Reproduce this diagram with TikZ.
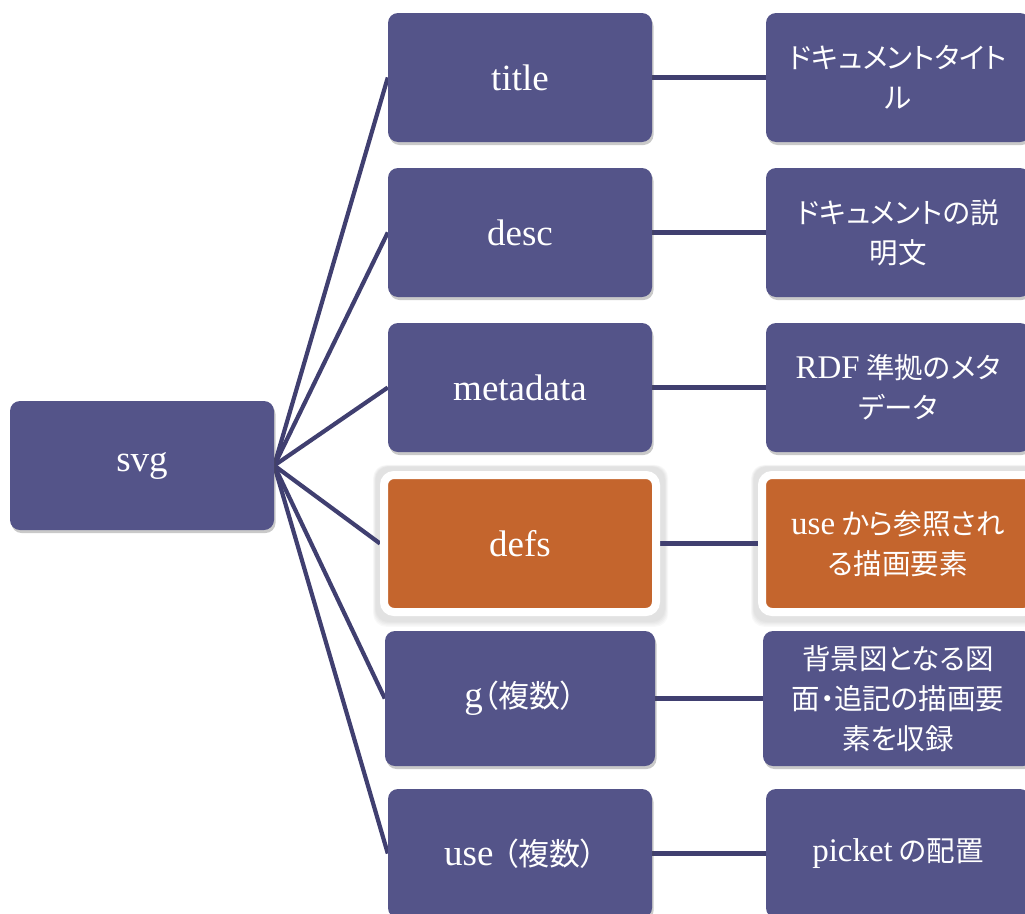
\documentclass[tikz,border=0pt]{standalone}
\usepackage{fontspec}
\setmainfont{Liberation Serif}
\newfontfamily\jp[RawFeature=+palt]{Noto Sans CJK JP}
\usetikzlibrary{shadows,backgrounds}
\definecolor{boxc}{HTML}{545489}
\definecolor{linec}{HTML}{403F70}
\definecolor{orangec}{HTML}{C4652D}
\newcommand\J[1]{{\jp #1}}
\newcommand\Lat[1]{{\rmfamily\fontsize{33}{40}\selectfont #1}}
\tikzset{
  box/.style={rounded corners=10pt, fill=boxc, text=white, minimum width=264pt,
    minimum height=129pt, inner sep=0pt, align=center,
    drop shadow={shadow xshift=1.5pt, shadow yshift=-3pt, opacity=0.3, fill=black!70}},
  hot/.style={rounded corners=10pt, fill=orangec, text=white, inner sep=0pt, align=center,
    draw=white, line width=8pt, minimum width=272pt, minimum height=137pt},
  mid/.style={font=\fontsize{37}{40}\selectfont},
  rt/.style={font=\jp\fontsize{28.5}{40}\selectfont},
  conn/.style={draw=linec, line width=4.2pt},
  glow/.style={fill=black, opacity=0.025, rounded corners=13pt},
}
\begin{document}
\begin{tikzpicture}[x=1pt,y=-1pt]
\useasboundingbox (0,0) rectangle (1025,913);
\node[box, mid] (svg) at (142,465.5) {svg};
\node[box, mid] (title) at (520,77.5) {title};
\node[box, mid] (desc) at (520,232.5) {desc};
\node[box, mid] (meta) at (520,387.5) {metadata};
\node[hot, mid] (defs) at (520,543.5) {defs};
\node[box, mid, minimum width=270pt, minimum height=135pt] (g) at (520,698.5) {g\J{\fontsize{31}{40}\selectfont（複数）}};
\node[box, mid] (use) at (520,853.5) {use\ \J{\fontsize{31}{40}\selectfont（複数）}};

\node[box, rt] (rtitle) at (898,77.5) {ドキュメントタイト\\ル};
\node[box, rt] (rdesc) at (898,232.5) {ドキュメントの説\\明文};
\node[box, rt] (rmeta) at (898,387.5) {\Lat{RDF} 準拠のメタ\\データ};
\node[hot, rt] (rdefs) at (898,543.5) {\Lat{use} から参照され\\る描画要素};
\node[box, rt, minimum width=270pt, minimum height=135pt] (rg) at (898,698.5) {背景図となる図\\面・追記の描画要\\素を収録};
\node[box, rt] (ruse) at (898,853.5) {\Lat{picket} の配置};

\begin{scope}[on background layer]
\foreach \n in {defs,rdefs}
  \foreach \i in {0,...,4}
    \fill[glow] ([shift={(-4.5-0.6*\i,-4.5-0.4*\i)}]\n.north west) rectangle ([shift={(5+0.8*\i,6+1.2*\i)}]\n.south east);
\foreach \m in {title,desc,meta,defs,g,use} \draw[conn] (svg.east) -- (\m.west);
\draw[conn] (title) -- (rtitle);
\draw[conn] (desc) -- (rdesc);
\draw[conn] (meta) -- (rmeta);
\draw[conn] (defs) -- (rdefs);
\draw[conn] (g) -- (rg);
\draw[conn] (use) -- (ruse);
\end{scope}
\end{tikzpicture}
\end{document}
